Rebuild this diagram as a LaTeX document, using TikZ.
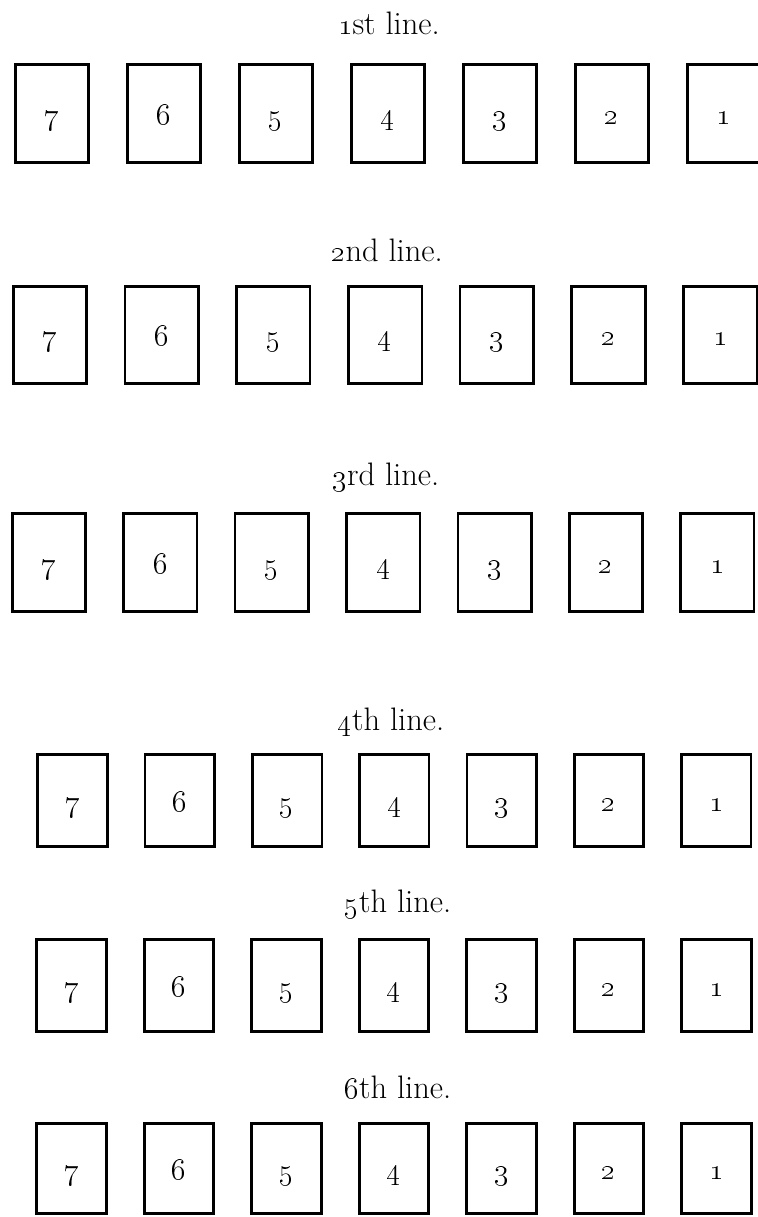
\documentclass[tikz,border=0pt]{standalone}
\usepackage{tikz}
\newcommand{\lblfont}{\fontsize{18.5}{21}\selectfont}
\newcommand{\numfont}{\fontsize{17}{20}\selectfont}
\tikzset{
  crd/.style 2 args={draw, line width=1.5pt, minimum width=#1, minimum height=#2,
              inner sep=0pt, text height=12pt, text depth=0pt, font=\numfont},
  lbl/.style={anchor=base, inner sep=0pt, font=\lblfont},
}

\begin{document}
\begin{tikzpicture}[x=0.2mm, y=-0.2mm]
  \useasboundingbox (0,0) rectangle (757,1217);
  % six lines of cards, from 7 down to 1
  \foreach \r/\by/\bx/\pt/\w/\h/\lx/\ly/\lab in {
      1/113.5/52/112/1.47cm/1.97cm/389/35/{\oldstylenums{1}st line.},
      2/335/50/111.7/1.47cm/1.95cm/387/261/{\oldstylenums{2}nd line.},
      3/562.5/49/111.4/1.47cm/1.97cm/386/485/{\oldstylenums{3}rd line.},
      4/800.5/72.5/107.3/1.39cm/1.85cm/391/730/{\oldstylenums{4}th line.},
      5/985.5/71.5/107.5/1.39cm/1.85cm/398/912/{\oldstylenums{5}th line.},
      6/1168.5/71.5/107.5/1.39cm/1.81cm/398/1098/{\oldstylenums{6}th line.}}{
    \node[lbl] (ttl\r) at (\lx,\ly) {\lab};
    \foreach \n [count=\i from 0] in {7,6,5,4,3,2,1}
      \node[crd={\w}{\h}] (c\r-\n) at (\bx+\i*\pt,\by) {\oldstylenums{\n}};
  }
\end{tikzpicture}
\end{document}
